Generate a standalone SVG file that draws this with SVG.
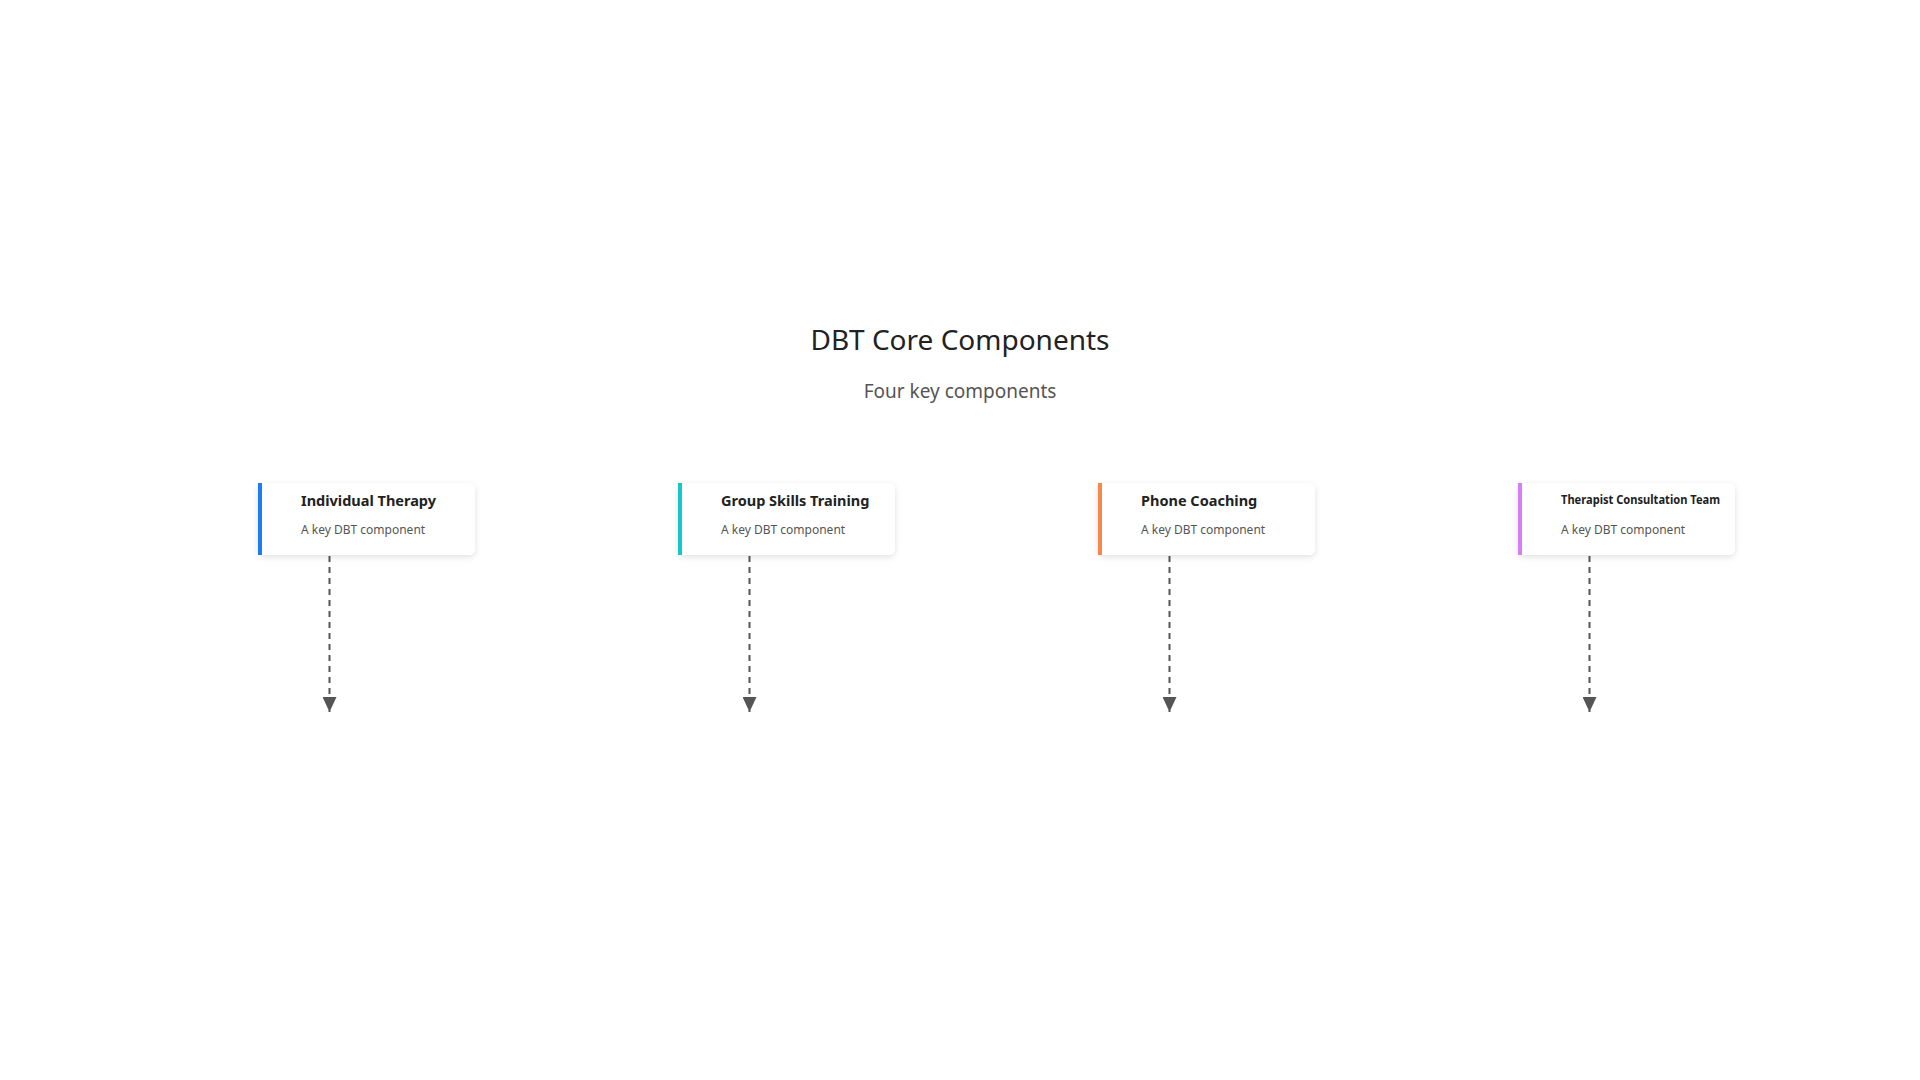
<svg xmlns="http://www.w3.org/2000/svg" width="1920" height="1080" viewBox="0 0 1920 1080">
<style>
.title{font-family:"Noto Sans","DejaVu Sans",sans-serif;font-size:28px;fill:#222;text-anchor:middle}
.sub{font-family:"Noto Sans","DejaVu Sans",sans-serif;font-size:19px;fill:#555;text-anchor:middle}
.card{fill:#fff;filter:url(#sh)}
.nt{font-family:"Noto Sans","DejaVu Sans",sans-serif;font-size:14.5px;font-weight:bold;fill:#222}
.nd{font-family:"Noto Sans","DejaVu Sans",sans-serif;font-size:12px;fill:#555}
.conn{stroke:#555;stroke-width:2;stroke-dasharray:6 5;fill:none;marker-end:url(#arr)}
</style>
<defs>
<filter id="sh" x="-10%" y="-20%" width="120%" height="150%">
<feDropShadow dx="0" dy="2" stdDeviation="3" flood-color="#000" flood-opacity="0.12"/>
</filter>
<marker id="arr" markerWidth="15" markerHeight="14" viewBox="0 0 15 14" refX="15" refY="7" orient="auto" markerUnits="userSpaceOnUse">
<path d="M0,0 L15,7 L0,14 Z" fill="#555"/>
</marker>
</defs>
<rect width="1920" height="1080" fill="#fff"/>
<text class="title" x="960" y="350">DBT Core Components</text>
<text class="sub" x="960" y="398">Four key components</text>
<g id="connectors">
<line class="conn" x1="329.5" y1="556" x2="329.5" y2="712"/>
<line class="conn" x1="749.5" y1="556" x2="749.5" y2="712"/>
<line class="conn" x1="1169.5" y1="556" x2="1169.5" y2="712"/>
<line class="conn" x1="1589.5" y1="556" x2="1589.5" y2="712"/>
</g>
<g id="node1">
<rect class="card" x="258" y="483" width="217" height="72" rx="6"/>
<rect x="258" y="483" width="4" height="72" fill="#1e7bf0"/>
<text class="nt" x="301" y="506">Individual Therapy</text>
<text class="nd" x="301" y="534">A key DBT component</text>
</g>
<g id="node2">
<rect class="card" x="678" y="483" width="217" height="72" rx="6"/>
<rect x="678" y="483" width="4" height="72" fill="#16c7c7"/>
<text class="nt" x="721" y="506">Group Skills Training</text>
<text class="nd" x="721" y="534">A key DBT component</text>
</g>
<g id="node3">
<rect class="card" x="1098" y="483" width="217" height="72" rx="6"/>
<rect x="1098" y="483" width="4" height="72" fill="#f5884a"/>
<text class="nt" x="1141" y="506">Phone Coaching</text>
<text class="nd" x="1141" y="534">A key DBT component</text>
</g>
<g id="node4">
<rect class="card" x="1518" y="483" width="217" height="72" rx="6"/>
<rect x="1518" y="483" width="4" height="72" fill="#d57ef5"/>
<text class="nt" x="1561" y="504" style="font-size:11.5px" textLength="159" lengthAdjust="spacingAndGlyphs">Therapist Consultation Team</text>
<text class="nd" x="1561" y="534">A key DBT component</text>
</g>
</svg>
